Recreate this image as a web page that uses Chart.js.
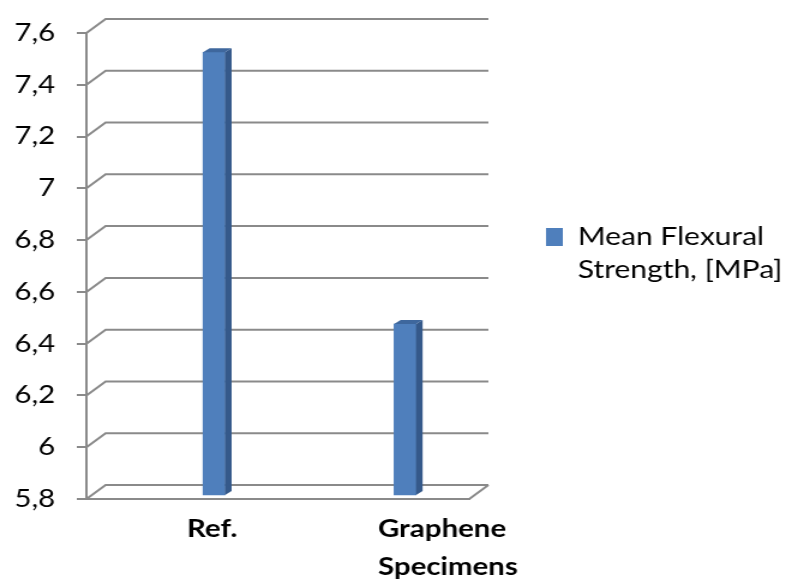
<!DOCTYPE html>
<html>
<head>
<meta charset="utf-8">
<script src="https://cdn.jsdelivr.net/npm/chart.js@4.4.1/dist/chart.umd.min.js"></script>
<style>
  html, body { margin: 0; padding: 0; background: #fff; overflow: hidden; }
  /* the drawing is laid out narrow and widened 1.2x, giving the wide letterforms */
  #wrap { position: absolute; left: 0; top: 0; width: 655px; height: 583px;
          transform: scaleX(1.2); transform-origin: 0 0; }
</style>
</head>
<body>
<div id="wrap"><canvas id="chart"></canvas></div>
<script>
// ---- data ----
const categories = ['Ref.', ['Graphene', 'Specimens']];
const seriesLabel = ['Mean Flexural', 'Strength, [MPa]'];
const flexuralStrength = [7.51, 6.46];
const yTickLabels = ['5,8', '6', '6,2', '6,4', '6,6', '6,8', '7', '7,2', '7,4', '7,6'];
const Y_MIN = 5.8, Y_MAX = 7.6, Y_STEP = 0.2;

// ---- style ----
const GRID = '#8a8a8a';
const FRONT = '#4f7fbc';
const SIDE = '#35598a';
const TOP = '#3e679d';
const WALL_DEPTH = { x: 16, y: -14 };   // offset of the back wall from the front axis
const BAR_DEPTH = { x: 5.5, y: -4 };    // thickness of each column
const PLANE_LIFT = 0.0155;              // columns stand a little behind the front edge
const LEGEND_W = 264;
const FONT = 'Lato';

// back wall gridlines + floor edge, then the side and top faces of the columns
const depthPlugin = {
  id: 'depth3d',
  beforeDatasetsDraw(chart) {
    const { ctx, chartArea: a } = chart;
    const ys = chart.scales.y;
    ctx.save();
    ctx.strokeStyle = GRID;
    ctx.lineWidth = 2;
    ys.ticks.forEach(t => {
      const y = ys.getPixelForValue(t.value);
      ctx.beginPath();
      ctx.moveTo(a.left, y);
      ctx.lineTo(a.left + WALL_DEPTH.x, y + WALL_DEPTH.y);
      ctx.lineTo(a.right + WALL_DEPTH.x, y + WALL_DEPTH.y);
      ctx.stroke();
    });
    ctx.beginPath();
    ctx.moveTo(a.right, a.bottom);
    ctx.lineTo(a.right + WALL_DEPTH.x, a.bottom + WALL_DEPTH.y);
    ctx.stroke();
    ctx.restore();
  },
  afterDatasetsDraw(chart) {
    const ctx = chart.ctx;
    const poly = (pts, color) => {
      ctx.beginPath();
      ctx.moveTo(pts[0][0], pts[0][1]);
      for (let i = 1; i < pts.length; i++) ctx.lineTo(pts[i][0], pts[i][1]);
      ctx.closePath();
      ctx.fillStyle = color;
      ctx.fill();
    };
    ctx.save();
    chart.getDatasetMeta(0).data.forEach(bar => {
      const { x, y, base, width } = bar.getProps(['x', 'y', 'base', 'width'], true);
      const l = x - width / 2, r = x + width / 2;
      const dx = BAR_DEPTH.x, dy = BAR_DEPTH.y;
      poly([[r, y], [r + dx, y + dy], [r + dx, base + dy], [r, base]], SIDE);
      poly([[l, y], [l + dx, y + dy], [r + dx, y + dy], [r, y]], TOP);
    });
    ctx.restore();
  }
};

// keep the legend column at a fixed width so the plot keeps its proportions
const legendWidthPlugin = {
  id: 'legendWidth',
  beforeLayout(chart) {
    const lg = chart.legend;
    if (lg && !lg.__fixedWidth) {
      const fit = lg.fit.bind(lg);
      lg.fit = function () { fit(); this.width = LEGEND_W; };
      lg.__fixedWidth = true;
    }
  }
};

new Chart(document.getElementById('chart'), {
  type: 'bar',
  data: {
    datasets: [{
      label: seriesLabel,
      data: flexuralStrength.map((v, i) => ({ x: i, y: v })),
      yAxisID: 'yBar',
      base: Y_MIN,
      backgroundColor: FRONT,
      borderWidth: 0,
      barThickness: 18.3
    }]
  },
  options: {
    responsive: true,
    maintainAspectRatio: false,
    animation: false,
    layout: { padding: { top: 33, left: 0, right: 0, bottom: 0 } },
    scales: {
      x: {
        type: 'linear',
        min: -0.668,
        max: 1.336,
        offset: false,
        afterBuildTicks: s => { s.ticks = categories.map((_, i) => ({ value: i })); },
        afterFit: s => { s.height = 84; },
        grid: { display: false, drawTicks: false },
        border: { display: true, color: GRID, width: 2 },
        ticks: {
          align: 'start',
          labelOffset: -22.5,
          padding: 11,
          maxRotation: 0,
          autoSkip: false,
          color: '#000',
          font: { family: FONT, size: 24.5, weight: 'bold', lineHeight: 1.56 },
          callback: v => categories[v]
        }
      },
      y: {
        type: 'linear',
        position: 'left',
        min: Y_MIN,
        max: Y_MAX,
        afterFit: s => { s.width = 72; },
        grid: { drawOnChartArea: false, drawTicks: true, tickLength: 8, color: GRID, lineWidth: 2 },
        border: { display: true, color: GRID, width: 2 },
        ticks: {
          stepSize: Y_STEP,
          padding: 18,
          color: '#000',
          font: { family: FONT, size: 24.5 },
          callback: (v, i) => yTickLabels[i]
        }
      },
      yBar: {
        type: 'linear',
        position: 'left',
        display: false,
        min: Y_MIN - PLANE_LIFT,
        max: Y_MAX - PLANE_LIFT
      }
    },
    plugins: {
      tooltip: { enabled: false },
      legend: {
        position: 'right',
        align: 'start',
        fullSize: false,
        title: { display: true, text: '', padding: { top: 0, bottom: 113.1 }, font: { size: 12, lineHeight: 1.2 } },
        labels: {
          boxWidth: 14,
          boxHeight: 18,
          padding: 64,
          color: '#000',
          font: { family: FONT, size: 25, lineHeight: 1.3 }
        }
      }
    }
  },
  plugins: [depthPlugin, legendWidthPlugin]
});
</script>
</body>
</html>
